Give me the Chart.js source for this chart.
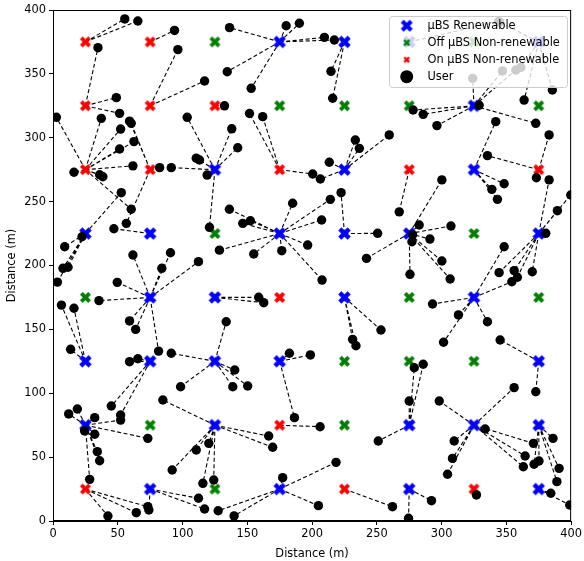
<!DOCTYPE html>
<html>
<head>
<meta charset="utf-8">
<script src="https://cdn.jsdelivr.net/npm/chart.js@4.4.1/dist/chart.umd.min.js"></script>
<style>
  html, body { margin: 0; padding: 0; background: #fff; }
  canvas { display: block; }
</style>
</head>
<body>
<canvas id="chart" width="584" height="561"></canvas>
<script>
// base station grid (m)
var gridPos = [25, 75, 125, 175, 225, 275, 325, 375];
// status per row, top row (y=375) first
// R = renewable, O = off non-renewable, N = on non-renewable
var bsRows = [
  'NNORRROR', // y=375
  'NNNOOORO', // y=325
  'NNRNRNRN', // y=275
  'RRORRROR', // y=225
  'ORRNRORO', // y=175
  'RRRROOOR', // y=125
  'RORNORRR', // y=75
  'NRORNRNR'  // y=25
];

// users: [userX, userY, servingBsX, servingBsY]
var userLinks = [
  [55.4, 393, 25, 375], [65.5, 391.4, 25, 375],
  [93.8, 384, 75, 375],
  [134.5, 351.7, 175, 375], [136.3, 386.2, 175, 375], [180, 387.7, 175, 375], [190.2, 389.6, 175, 375],
  [209.5, 378.6, 175, 375], [217.2, 376.5, 175, 375], [153, 338.7, 175, 375],
  [214.6, 352, 225, 375], [215.9, 330.9, 225, 375],
  [344, 391, 275, 375],
  [345, 390.5, 375, 375], [363.7, 329.5, 375, 375], [385.5, 337.4, 375, 375], [361.2, 355, 375, 375],
  [34.7, 370.5, 25, 325], [48.9, 331.4, 25, 325], [51.4, 319.1, 25, 325],
  [96.4, 369, 75, 325], [117, 344.4, 75, 325],
  [132.4, 325, 125, 325],
  [324, 346.5, 325, 325], [347, 352.3, 325, 325], [357.3, 353, 325, 325], [329, 325.4, 325, 325],
  [278, 321.7, 325, 325], [285.8, 318.3, 325, 325], [296.4, 309.5, 325, 325], [372.7, 311.3, 325, 325],
  [2.6, 316, 25, 275], [37.3, 315.2, 25, 275], [52.2, 306.8, 25, 275], [62.5, 297, 25, 275],
  [51.4, 291.2, 25, 275], [61.7, 278, 25, 275], [16.2, 273, 25, 275], [36, 271, 25, 275],
  [38.5, 269.5, 25, 275], [60.4, 244, 25, 275],
  [59.1, 313, 75, 275], [60.4, 311.3, 75, 275], [82.3, 276.6, 75, 275], [56.6, 233, 75, 275],
  [91.3, 276.6, 125, 275], [103.6, 316, 125, 275], [110.6, 284, 125, 275], [113.1, 282.6, 125, 275],
  [119, 270.8, 125, 275], [138, 307, 125, 275], [142.6, 292.2, 125, 275], [120.8, 229.9, 125, 275],
  [151.7, 319, 175, 275], [161.9, 316.5, 175, 275], [200.5, 271.6, 175, 275],
  [206.4, 267.7, 225, 275], [213.3, 280.8, 225, 275], [233.4, 298.2, 225, 275], [236.5, 291.7, 225, 275],
  [259.6, 302.2, 225, 275],
  [267.3, 242, 275, 275],
  [341.8, 312.6, 325, 275], [348.3, 264, 325, 275], [338.8, 259.6, 325, 275], [343.1, 251.8, 325, 275],
  [383, 302.2, 375, 275], [335.4, 286, 375, 275], [373.2, 268.7, 375, 275],
  [52.7, 257, 25, 225], [22.4, 222.5, 25, 225], [9, 214.7, 25, 225], [7.7, 197.8, 25, 225],
  [11.6, 198.6, 25, 225], [3.4, 187, 25, 225],
  [47, 228.8, 75, 225],
  [136.2, 244, 175, 225], [146.5, 233, 175, 225], [152.4, 235, 175, 225], [185, 248.7, 175, 225],
  [214.1, 251.8, 175, 225], [207.4, 235.6, 175, 225], [196.6, 216, 175, 225], [176.6, 211.6, 175, 225],
  [155, 209, 175, 225], [207.7, 188.6, 175, 225], [128.5, 212, 175, 225],
  [222.4, 257, 225, 225], [250.6, 225.2, 225, 225],
  [300.2, 267, 275, 225], [282.7, 231.7, 275, 225], [307.2, 230.9, 275, 225], [277.6, 224, 275, 225],
  [277.1, 218.6, 275, 225], [291, 220.7, 275, 225], [300.2, 203.5, 275, 225], [306.6, 189.4, 275, 225],
  [275.6, 193.1, 275, 225], [242, 205.6, 275, 225],
  [344.4, 194.4, 375, 225], [356, 196, 375, 225], [358.5, 190.8, 375, 225], [370, 195.1, 375, 225],
  [380.4, 225.2, 375, 225], [389.4, 242.9, 375, 225], [399.7, 255.2, 375, 225], [383, 267, 375, 225],
  [61.7, 208.2, 75, 175], [90.7, 210, 75, 175], [84, 197.8, 75, 175], [112.3, 203, 75, 175],
  [49.6, 186.8, 75, 175], [35.5, 172.5, 75, 175], [59.1, 156.6, 75, 175], [63.8, 150, 75, 175],
  [81.5, 133, 75, 175],
  [158.8, 175.1, 125, 175], [162.7, 170.9, 125, 175],
  [253.2, 149.5, 225, 175], [231.3, 142.2, 225, 175], [233.9, 137.2, 225, 175],
  [348.3, 214.7, 325, 175], [354.2, 187.3, 325, 175], [293, 169.9, 325, 175], [313, 161.3, 325, 175],
  [335.4, 156, 325, 175], [301.5, 139.9, 325, 175],
  [6.5, 169, 25, 125], [16.2, 166.5, 25, 125], [13.6, 134.4, 25, 125],
  [65.5, 127, 75, 125], [59.1, 124.7, 75, 125], [45, 90, 75, 125], [52.2, 83, 75, 125],
  [91.3, 131.3, 125, 125], [133.7, 156, 125, 125], [98.5, 105.1, 125, 125], [140.3, 118.2, 125, 125],
  [138.8, 105.1, 125, 125], [150.3, 105.7, 125, 125],
  [182.5, 131.3, 175, 125], [198.7, 130, 175, 125], [186.4, 80.9, 175, 125],
  [345.2, 141.7, 375, 125], [372.7, 101.2, 375, 125],
  [52.2, 79, 25, 75], [12.1, 83.8, 25, 75], [18.8, 87.7, 25, 75], [32.2, 80.9, 25, 75],
  [24.4, 70.5, 25, 75], [32.2, 67.9, 25, 75], [34.2, 54.3, 25, 75], [36, 47.2, 25, 75],
  [28.3, 32.6, 25, 75], [73.2, 64.7, 25, 75],
  [84.8, 94.7, 125, 75], [110.6, 55.6, 125, 75], [120.3, 60.8, 125, 75], [92, 39.9, 125, 75],
  [115.7, 29.5, 125, 75], [124.1, 32.1, 125, 75], [166.5, 66.5, 125, 75], [169.6, 57.7, 125, 75],
  [206.2, 73.8, 175, 75],
  [251.1, 62.6, 275, 75], [278.9, 120, 275, 75], [285.8, 122.7, 275, 75], [275, 93.9, 275, 75],
  [298.2, 93.9, 325, 75], [356, 104.4, 325, 75], [333.6, 72, 325, 75], [309.7, 62.6, 325, 75],
  [308.4, 49, 325, 75], [304.6, 36.6, 325, 75], [370.9, 60.8, 325, 75], [364.5, 50.9, 325, 75],
  [363.1, 42.5, 325, 75],
  [386, 64.7, 375, 75], [371.4, 44.4, 375, 75], [375.2, 47, 375, 75], [390.7, 41.2, 375, 75],
  [389, 30.8, 375, 75],
  [42.4, 3.9, 25, 25], [64.3, 6.5, 25, 25], [73.2, 11.2, 25, 25],
  [74, 8.6, 75, 25], [112.3, 17.8, 75, 25], [117, 9.4, 75, 25],
  [127.5, 8, 175, 25], [139.8, 4, 175, 25], [218.5, 45.9, 175, 25], [177.3, 33.9, 175, 25],
  [204.9, 12, 175, 25],
  [262.1, 11.2, 225, 25],
  [292.2, 15.9, 275, 25], [274.5, 2.1, 275, 25],
  [326.9, 20.4, 325, 25],
  [384.3, 21.7, 375, 25], [398.9, 12.5, 375, 25]
];

var axisTicks = [0, 50, 100, 150, 200, 250, 300, 350, 400];

var BLUE = '#0000ff', GREEN = '#008000', RED = '#ff0000';

// filled "X" marker like matplotlib's 'X'
function xMarker(color, size) {
  var c = document.createElement('canvas');
  var s = Math.ceil(size) + 2;
  c.width = s; c.height = s;
  var g = c.getContext('2d');
  var L = size * 1.06, W = size * 0.354;
  g.translate(s / 2, s / 2);
  g.rotate(Math.PI / 4);
  g.fillStyle = color;
  g.fillRect(-L / 2, -W / 2, L, W);
  g.fillRect(-W / 2, -L / 2, W, L);
  return c;
}

var renewable = [], offBs = [], onBs = [];
bsRows.forEach(function (row, r) {
  var y = gridPos[gridPos.length - 1 - r];
  for (var i = 0; i < row.length; i++) {
    var p = { x: gridPos[i], y: y };
    if (row[i] === 'R') renewable.push(p);
    else if (row[i] === 'O') offBs.push(p);
    else onBs.push(p);
  }
});

var users = userLinks.map(function (u) { return { x: u[0], y: u[1] }; });
var links = [];
userLinks.forEach(function (u) {
  links.push({ x: u[2], y: u[3] }, { x: u[0], y: u[1] }, { x: u[0], y: null });
});

var FONT = 'DejaVu Sans';
var FONT_SIZE = 11.4;

var frame = {
  id: 'frame',
  afterDatasetsDraw: function (chart) {
    var a = chart.chartArea, ctx = chart.ctx;
    ctx.save();
    ctx.strokeStyle = '#000';
    ctx.lineWidth = 1;
    ctx.strokeRect(a.left + 0.5, a.top + 0.5, a.right - a.left - 1, a.bottom - a.top - 1);
    ctx.restore();
  }
};

var legendItems = [
  { label: 'µBS Renewable', img: xMarker(BLUE, 12) },
  { label: 'Off µBS Non-renewable', img: xMarker(GREEN, 7) },
  { label: 'On µBS Non-renewable', img: xMarker(RED, 6.5) },
  { label: 'User', circle: 6.5 }
];

var boxLegend = {
  id: 'boxLegend',
  afterDraw: function (chart) {
    var ctx = chart.ctx;
    var x0 = 389, y0 = 16, w = 178, h = 71;
    ctx.save();
    ctx.beginPath();
    ctx.roundRect(x0 + 0.5, y0 + 0.5, w, h, 3);
    ctx.fillStyle = 'rgba(255,255,255,0.8)';
    ctx.fill();
    ctx.strokeStyle = '#cccccc';
    ctx.lineWidth = 1;
    ctx.stroke();
    ctx.font = FONT_SIZE + 'px "' + FONT + '"';
    ctx.textBaseline = 'middle';
    legendItems.forEach(function (it, i) {
      var cy = 25.7 + i * 17;
      if (it.img) {
        ctx.drawImage(it.img, 406.7 - it.img.width / 2, cy - it.img.height / 2);
      } else {
        ctx.beginPath();
        ctx.arc(406.7, cy, it.circle, 0, Math.PI * 2);
        ctx.fillStyle = '#000';
        ctx.fill();
      }
      ctx.fillStyle = '#000';
      ctx.fillText(it.label, 427.5, cy + 0.5);
    });
    ctx.restore();
  }
};

var tickFont = { family: FONT, size: FONT_SIZE };

new Chart(document.getElementById('chart').getContext('2d'), {
  type: 'scatter',
  data: {
    datasets: [
      {
        label: 'User',
        data: users,
        pointStyle: 'circle',
        pointRadius: 4.7,
        pointBackgroundColor: '#000',
        pointBorderWidth: 0,
        order: 0
      },
      {
        label: 'µBS Renewable',
        data: renewable,
        pointStyle: xMarker(BLUE, 12.5),
        order: 1
      },
      {
        label: 'Off µBS Non-renewable',
        data: offBs,
        pointStyle: xMarker(GREEN, 11),
        order: 1
      },
      {
        label: 'On µBS Non-renewable',
        data: onBs,
        pointStyle: xMarker(RED, 11),
        order: 1
      },
      {
        label: 'links',
        data: links,
        showLine: true,
        spanGaps: false,
        pointRadius: 0,
        borderColor: '#000',
        borderWidth: 1.1,
        borderDash: [4, 2.5],
        order: 2
      }
    ]
  },
  options: {
    responsive: false,
    animation: false,
    layout: { padding: { top: 10, right: 12, left: 0, bottom: 0 } },
    plugins: {
      legend: { display: false },
      tooltip: { enabled: false }
    },
    scales: {
      x: {
        type: 'linear',
        min: 0, max: 400,
        afterBuildTicks: function (s) { s.ticks = axisTicks.map(function (v) { return { value: v }; }); },
        afterFit: function (s) { s.height = 40; },
        ticks: { color: '#000', font: tickFont, padding: 2, maxRotation: 0 },
        grid: { drawOnChartArea: false, drawTicks: true, tickLength: 4, color: '#000' },
        border: { color: '#000' },
        title: { display: true, text: 'Distance (m)', color: '#000', font: tickFont, padding: { top: 0, bottom: 0 } }
      },
      y: {
        type: 'linear',
        min: 0, max: 400,
        afterBuildTicks: function (s) { s.ticks = axisTicks.map(function (v) { return { value: v }; }); },
        afterFit: function (s) { s.width = 53; },
        ticks: { color: '#000', font: tickFont, padding: 3 },
        grid: { drawOnChartArea: false, drawTicks: true, tickLength: 4, color: '#000' },
        border: { color: '#000' },
        title: { display: true, text: 'Distance (m)', color: '#000', font: tickFont, padding: { top: 5, bottom: 0 } }
      }
    }
  },
  plugins: [frame, boxLegend]
});
</script>
</body>
</html>
